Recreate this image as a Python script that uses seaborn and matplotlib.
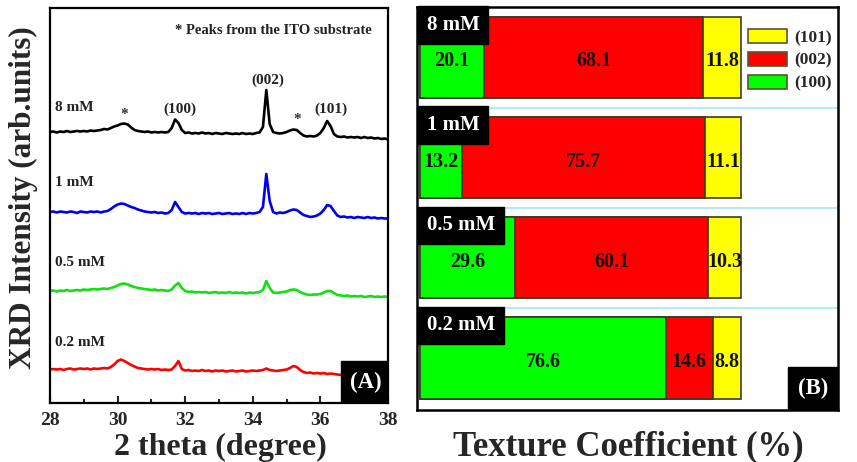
import numpy as np
import pandas as pd
import matplotlib
matplotlib.use('Agg')
import matplotlib.pyplot as plt
from matplotlib.patches import Patch, Rectangle
import seaborn as sns

# 2 theta grid (degree) and XRD intensities (arb. units)
two_theta = [28.0, 28.1, 28.2, 28.3, 28.4, 28.5, 28.6, 28.7, 28.8, 28.9,
             29.0, 29.1, 29.2, 29.3, 29.4, 29.5, 29.6, 29.7, 29.8, 29.9,
             30.0, 30.1, 30.2, 30.3, 30.4, 30.5, 30.6, 30.7, 30.8, 30.9,
             31.0, 31.1, 31.2, 31.3, 31.4, 31.5, 31.6, 31.7, 31.8, 31.9,
             32.0, 32.1, 32.2, 32.3, 32.4, 32.5, 32.6, 32.7, 32.8, 32.9,
             33.0, 33.1, 33.2, 33.3, 33.4, 33.5, 33.6, 33.7, 33.8, 33.9,
             34.0, 34.1, 34.2, 34.3, 34.4, 34.5, 34.6, 34.7, 34.8, 34.9,
             35.0, 35.1, 35.2, 35.3, 35.4, 35.5, 35.6, 35.7, 35.8, 35.9,
             36.0, 36.1, 36.2, 36.3, 36.4, 36.5, 36.6, 36.7, 36.8, 36.9,
             37.0, 37.1, 37.2, 37.3, 37.4, 37.5, 37.6, 37.7, 37.8, 37.9,
             38.0]

xrd_8mM = [8, 8.5, 7.5, 8.5, 8, 9, 8, 8.5, 9, 8.5,
           9, 8.5, 9.5, 9, 9.5, 10, 11, 10.5, 12, 13.5,
           14.5, 16, 16.5, 15.5, 12.5, 10, 9, 8.5, 8, 8.5,
           7.5, 8, 7.5, 8, 7.5, 8, 12, 20.5, 17, 10,
           7, 7.5, 6.5, 7, 6.5, 7.5, 6.5, 7, 6, 7,
           6.5, 6, 7, 6.5, 6, 6.5, 6, 7, 6, 6.5,
           6, 7, 7.5, 13, 50, 16, 8, 7, 6.5, 7,
           8, 9.5, 10.5, 10, 7, 4.5, 3.5, 4, 3.5, 4.5,
           7, 12, 19, 14, 6, 3.5, 3, 3.5, 2.5, 3,
           2.5, 3, 2, 3, 2, 2.5, 1.5, 2, 1, 1.5,
           0.5]

xrd_1mM = [7, 7.5, 6.5, 7.5, 7, 6.5, 7.5, 7, 6, 7.5,
           7, 6.5, 7.5, 7, 7.5, 6.5, 7.5, 8, 10, 12.5,
           14.5, 15.5, 15, 13.5, 12, 11, 9.5, 8.5, 7.5, 7,
           6.5, 7, 6, 6.5, 5.5, 6, 9, 17, 12, 7,
           5.5, 6, 5.5, 6, 5, 6, 5.5, 6, 5, 5.5,
           6, 5, 5.5, 6, 5, 5.5, 5, 6, 5, 6,
           5.5, 6, 7, 12, 45, 18, 7, 5.5, 6.5, 6,
           7, 8.5, 9.5, 9, 6.5, 4, 3, 2, 2.5, 3.5,
           5.5, 9, 14, 13, 8, 3.5, 2, 2.5, 1.5, 2,
           1, 2, 1.5, 1, 2, 1, 1.5, 0.5, 1, 0.5,
           0.5]

xrd_05mM = [6, 6.5, 5.5, 6.5, 6, 7, 6, 6.5, 7, 6.5,
            7.5, 7, 7.5, 8, 7.5, 8, 8.5, 8, 9, 10,
            11.5, 13, 13.5, 12.5, 11, 10, 9, 8.5, 8, 7.5,
            7, 7.5, 6.5, 7, 6.5, 6, 7.5, 11.5, 14, 9,
            6, 5, 5.5, 4.5, 5, 4.5, 5, 4, 4.5, 5,
            4, 4.5, 4, 5, 4, 4.5, 4, 4.5, 3.5, 4.5,
            4, 4.5, 5, 7, 16, 9, 4.5, 4, 4.5, 5,
            5.5, 7, 7.5, 7, 5, 3.5, 2.5, 2, 2.5, 2.5,
            3, 4.5, 6, 6, 4, 2, 1.5, 1, 1.5, 0.5,
            1, 0.5, 1, 0, 0.5, 1, 0, 0.5, 0, 0.5,
            0]

xrd_02mM = [5.5, 6, 5.5, 6, 5, 6, 6.5, 5.5, 6, 6.5,
            6, 6.5, 5.5, 6.5, 6, 6.5, 7, 6.5, 8, 10.5,
            14, 15.5, 14, 12, 10, 8.5, 7, 6.5, 6, 5.5,
            6, 5.5, 6, 5, 5.5, 5, 5.5, 9, 14, 6,
            4.5, 5, 4, 4.5, 4, 5, 4, 4.5, 3.5, 4.5,
            4, 4.5, 3.5, 4, 4.5, 3.5, 4, 4.5, 3.5, 4,
            4.5, 4, 4.5, 5, 6.5, 5, 4.5, 4, 4.5, 5,
            5.5, 7, 9, 8, 5, 3, 2, 2.5, 1.5, 2,
            1.5, 2, 1, 1.5, 1, 0.5, 0, 0.5, 0, 0.5,
            0, 0.5, 0, 0.5, 0, 0.5, 0, 0.5, 0, 0.5,
            0]

# texture coefficient (%) per sample and plane
samples = ['8 mM', '1 mM', '0.5 mM', '0.2 mM']
tc_100 = [20.1, 13.2, 29.6, 76.6]
tc_002 = [68.1, 75.7, 60.1, 14.6]
tc_101 = [11.8, 11.1, 10.3, 8.8]

peak_names = ['(100)', '(002)', '(101)']
peak_pos = [31.85, 34.45, 36.31]
ito_pos = [30.19, 35.31]

sns.set_style('white')
plt.rcParams['font.family'] = ['Liberation Serif', 'DejaVu Serif']
plt.rcParams['font.weight'] = 'bold'

fig = plt.figure(figsize=(8.57, 4.62), dpi=100)

# ---------------- (A) XRD patterns ----------------
ax1 = fig.add_axes([50 / 857, 59 / 462, 338 / 857, 395 / 462])
curves = [xrd_8mM, xrd_1mM, xrd_05mM, xrd_02mM]
offsets = [263, 184, 106, 28]
line_colors = ['black', '#0000ee', '#12e012', '#ff0000']
label_y = [296, 221, 140, 61]

for vals, off, col, name, ly in zip(curves, offsets, line_colors, samples, label_y):
    sns.lineplot(x=two_theta, y=np.array(vals) + off, color=col, lw=1.9, ax=ax1, zorder=2)
    ax1.text(28.15, ly, name, ha='left', va='center', fontsize=11, fontweight='bold', color='#222222')

for name, pos in zip(peak_names, peak_pos):
    ax1.text(pos, 323 if name == '(002)' else 294, name, ha='center', va='center',
             fontsize=11, fontweight='bold', color='#222222')
ax1.text(ito_pos[0], 289, '*', ha='center', va='center', fontsize=11, fontweight='bold', color='#333333')
ax1.text(ito_pos[1], 284, '*', ha='center', va='center', fontsize=11, fontweight='bold', color='#333333')
ax1.text(0.953, 0.944, '* Peaks from the ITO substrate', transform=ax1.transAxes,
         ha='right', va='center', fontsize=10.5, fontweight='bold', color='#222222')

ax1.set_xlim(28, 38)
ax1.set_ylim(0, 395)
ax1.set_yticks([])
ax1.set_xticks([28, 30, 32, 34, 36, 38])
ax1.set_xticks([29, 31, 33, 35, 37], minor=True)
ax1.tick_params(axis='x', which='major', direction='in', length=5, width=1.5,
                labelsize=14, pad=6.5, bottom=True)
ax1.tick_params(axis='x', which='minor', direction='in', length=3, width=1.5, bottom=True)
for sp in ax1.spines.values():
    sp.set_linewidth(1.6)
    sp.set_color('black')
ax1.set_xlabel('2 theta (degree)', fontsize=23, fontweight='bold')
ax1.xaxis.set_label_coords(0.503, -0.076)
ax1.set_ylabel('XRD Intensity (arb.units)', fontsize=22.5, fontweight='bold')
ax1.yaxis.set_label_coords(-0.036, 0.52)

ax1.add_patch(Rectangle((0.861, 0), 0.139, 0.106, transform=ax1.transAxes,
                        facecolor='black', edgecolor='black', zorder=5))
ax1.text(0.935, 0.051, '(A)', transform=ax1.transAxes, ha='center', va='center',
         color='white', fontsize=16.5, fontweight='bold', zorder=6)

# ---------------- (B) texture coefficient ----------------
ax2 = fig.add_axes([417 / 857, 52 / 462, 421 / 857, 403 / 462])
df = pd.DataFrame({'sample': samples, 'tc_100': tc_100, 'tc_002': tc_002, 'tc_101': tc_101})
df['upto_002'] = df['tc_100'] + df['tc_002']
df['total'] = df['upto_002'] + df['tc_101']

yellow, red, green = '#ffff00', '#ff0000', '#00ff00'
for col, c in [('total', yellow), ('upto_002', red), ('tc_100', green)]:
    sns.barplot(data=df, x=col, y='sample', orient='h', color=c, saturation=1,
                width=0.81, edgecolor='#3a3a2a', linewidth=1.2, ax=ax2, zorder=2)

for i in range(len(samples) - 1):
    ax2.axhline(i + 0.5, color='#a6e6f0', lw=1.2, zorder=0)

for i, row in df.iterrows():
    centers = [row['tc_100'] / 2, row['tc_100'] + row['tc_002'] / 2, row['upto_002'] + row['tc_101'] / 2]
    for cx, v in zip(centers, [row['tc_100'], row['tc_002'], row['tc_101']]):
        ax2.text(cx, i + 0.04, f'{v:.1f}', ha='center', va='center', fontsize=14.5,
                 fontweight='bold', color='#111111', zorder=4)
    ax2.text(2.1, i - 0.325, row['sample'], ha='left', va='center', color='white', fontsize=15,
             fontweight='bold', zorder=6,
             bbox=dict(boxstyle='square,pad=0.42', facecolor='black', edgecolor='black'))

handles = [Patch(facecolor=yellow, edgecolor='#555533', lw=1.2, label='(101)'),
           Patch(facecolor=red, edgecolor='#555533', lw=1.2, label='(002)'),
           Patch(facecolor=green, edgecolor='#555533', lw=1.2, label='(100)')]
ax2.legend(handles=handles, loc='upper left', bbox_to_anchor=(0.787, 0.945), frameon=False,
           prop={'size': 12.5, 'weight': 'bold'}, handlelength=2.25, handleheight=0.86,
           handletextpad=0.4, labelspacing=0.33, borderpad=0, borderaxespad=0)

ax2.set_xlim(-0.9, 130.2)
ax2.set_ylim(3.519, -0.504)
ax2.set_xticks([])
ax2.set_yticks([])
ax2.set_ylabel('')
for sp in ax2.spines.values():
    sp.set_linewidth(1.8)
    sp.set_color('black')
ax2.set_xlabel('Texture Coefficient (%)', fontsize=25, fontweight='bold')
ax2.xaxis.set_label_coords(0.501, -0.05)

ax2.add_patch(Rectangle((0.881, 0), 0.119, 0.107, transform=ax2.transAxes,
                        facecolor='black', edgecolor='black', zorder=5))
ax2.text(0.94, 0.053, '(B)', transform=ax2.transAxes, ha='center', va='center',
         color='white', fontsize=16.5, fontweight='bold', zorder=6)

fig.savefig('out.png', dpi=100)
